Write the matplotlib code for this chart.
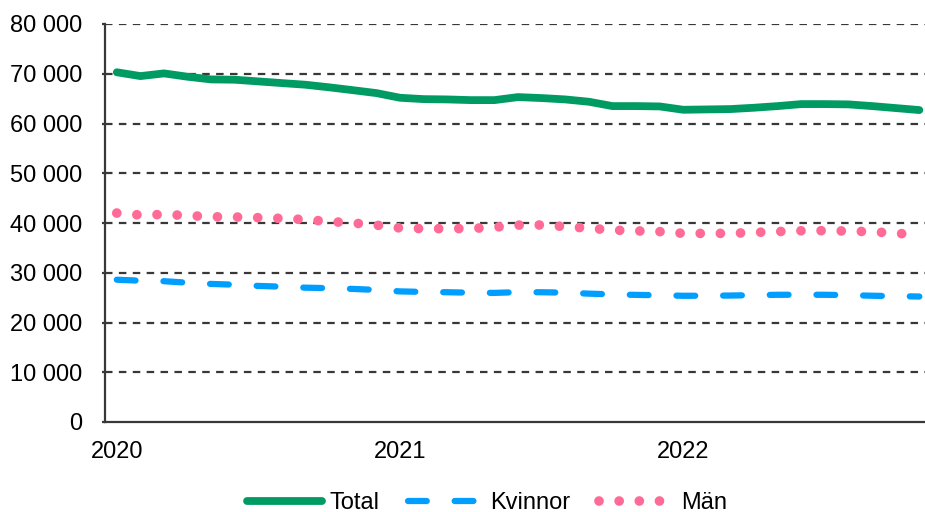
import matplotlib
matplotlib.use("Agg")
import matplotlib.pyplot as plt
from matplotlib.lines import Line2D

plt.rcParams['font.family'] = ['Liberation Sans', 'DejaVu Sans']
plt.rcParams['lines.scale_dashes'] = False

# ===============================
# data (monthly, Jan 2020 - Nov 2022)
# ===============================
year_labels = ["2020", "2021", "2022"]
year_pos = [0, 12, 24]

total = [70300, 69530, 70070, 69400, 68860, 68800, 68460, 68120, 67790, 67270,
         66700, 66110, 65170, 64900, 64840, 64700, 64700, 65310, 65110, 64840,
         64370, 63500, 63500, 63430, 62760, 62830, 62900, 63170, 63500, 63900,
         63900, 63840, 63500, 63100, 62700]
kvinnor = [28600, 28400, 28300, 28000, 27750, 27600, 27350, 27200, 27000, 26900,
           26750, 26550, 26250, 26150, 26080, 26000, 25950, 26100, 26080, 26000,
           25800, 25650, 25550, 25480, 25370, 25380, 25420, 25500, 25570, 25580,
           25570, 25500, 25380, 25300, 25220]
man = [42000, 41600, 41720, 41500, 41250, 41210, 41070, 40920, 40680, 40300,
       40000, 39570, 39000, 38860, 38860, 38900, 39150, 39580, 39600, 39280,
       38950, 38580, 38420, 38270, 37920, 37910, 37920, 38100, 38280, 38440,
       38460, 38380, 38250, 37920, 37700]

x = list(range(len(total)))

C_TOTAL = "#009B63"
C_KV = "#009EFF"
C_MAN = "#FF6B96"
C_GRID = "#383838"

fig = plt.figure(figsize=(9.25, 5.12), dpi=100)
ax = fig.add_axes([105 / 925, 90 / 512, 820 / 925, 398 / 512])

# grid
for v in range(10000, 80001, 10000):
    ax.axhline(v, color=C_GRID, lw=1.6, linestyle=(0, (5.4, 4.6)), zorder=1)

kw_kv = dict(color=C_KV, lw=4.5, linestyle=(0, (13.5, 20.1)), dash_capstyle="round")
kw_man = dict(color=C_MAN, lw=7.0, linestyle=(0, (0.01, 14.5)), dash_capstyle="round")
kw_tot = dict(color=C_TOTAL, lw=5.6, solid_capstyle="round", solid_joinstyle="round")

ax.plot(x, kvinnor, zorder=3, **kw_kv)
ax.plot(x, man, zorder=3, **kw_man)
ax.plot(x, total, zorder=4, **kw_tot)

ax.set_xlim(-0.5, 34.24)
ax.set_ylim(0, 80000)
ax.set_yticks(range(0, 80001, 10000))
ax.set_yticklabels([f"{v:,}".replace(",", " ") for v in range(0, 80001, 10000)])
ax.set_xticks(year_pos)
ax.set_xticklabels(year_labels)

ax.tick_params(axis="y", direction="out", length=2.5, width=1.6, color=C_GRID,
               pad=14, labelsize=17)
ax.tick_params(axis="x", length=0, pad=14, labelsize=17)

for s in ["top", "right"]:
    ax.spines[s].set_visible(False)
for s in ["left", "bottom"]:
    ax.spines[s].set_color(C_GRID)
    ax.spines[s].set_linewidth(1.6)

handles = [Line2D([], [], **kw_tot), Line2D([], [], **kw_kv), Line2D([], [], **kw_man)]
fig.legend(handles, ["Total", "Kvinnor", "Män"], loc="center",
           bbox_to_anchor=(487 / 925, 0.018), ncol=3, frameon=False, fontsize=17,
           handlelength=3.2, handletextpad=0.3, columnspacing=1.2)

fig.savefig("out.png", dpi=100)
